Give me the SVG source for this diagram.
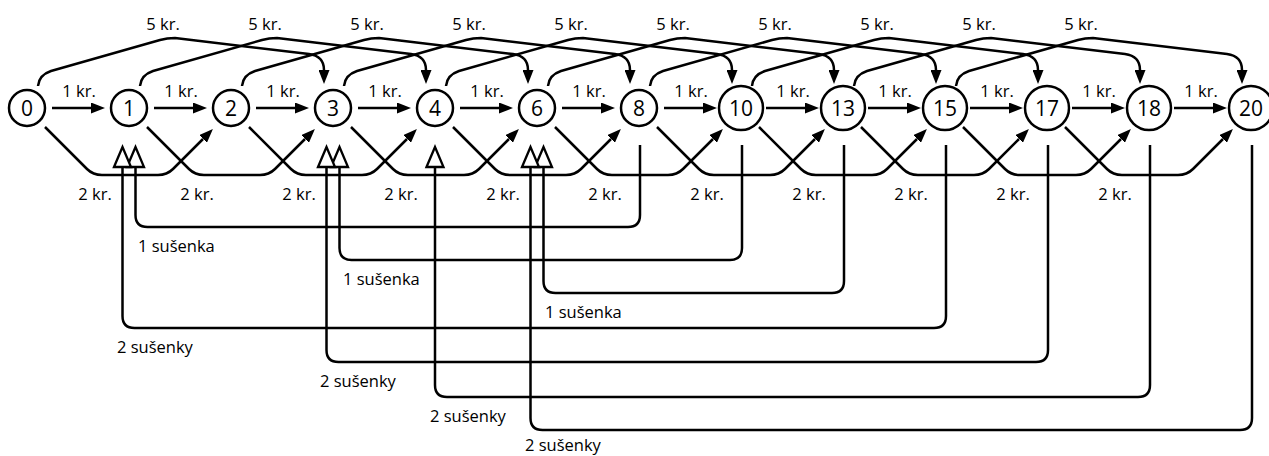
<svg xmlns="http://www.w3.org/2000/svg" width="1269" height="456" viewBox="0 0 1269 456">
<style>
.e{fill:none;stroke:#000;stroke-width:2.5;stroke-linejoin:round}
.a{marker-end:url(#ah)}
.c{marker-end:url(#hh)}
.n circle{fill:#fff;stroke:#000;stroke-width:2.5}
.n text{font-family:"Open Sans","Noto Sans",sans-serif;font-size:21px;text-anchor:middle;fill:#000}
.l{font-family:"Open Sans","Noto Sans",sans-serif;font-size:16.5px;fill:#000}
.m{text-anchor:middle}
</style>
<defs>
<marker id="ah" markerUnits="userSpaceOnUse" viewBox="0 0 14 11" refX="0" refY="5.5" markerWidth="14" markerHeight="11" orient="auto"><path d="M0,0 L14,5.5 L0,11 z" fill="#000"/></marker>
<marker id="hh" markerUnits="userSpaceOnUse" viewBox="-2 -11 24 22" refX="0" refY="0" markerWidth="24" markerHeight="22" orient="auto" overflow="visible"><path d="M0,-8.5 L20,0 L0,8.5 z" fill="#fff" stroke="#000" stroke-width="2.3" stroke-linejoin="miter"/></marker>
</defs>
<g id="connectors">
<g id="one-kr">
<path class="e a" d="M52,108 H91"/>
<path class="e a" d="M154,108 H193"/>
<path class="e a" d="M256,108 H295"/>
<path class="e a" d="M358,108 H397"/>
<path class="e a" d="M460,108 H499"/>
<path class="e a" d="M562,108 H601"/>
<path class="e a" d="M664,108 H703"/>
<path class="e a" d="M766,108 H805"/>
<path class="e a" d="M868,108 H907"/>
<path class="e a" d="M970,108 H1009"/>
<path class="e a" d="M1072,108 H1111"/>
<path class="e a" d="M1174,108 H1213"/>
</g>
<g id="five-kr">
<path class="e a" d="M38,86 Q39,75 51,71 L160,40 Q167,38 175,38 L309,54 Q324,56 324,70"/>
<path class="e a" d="M140,86 Q141,75 153,71 L262,40 Q269,38 277,38 L411,54 Q426,56 426,70"/>
<path class="e a" d="M242,86 Q243,75 255,71 L364,40 Q371,38 379,38 L513,54 Q528,56 528,70"/>
<path class="e a" d="M344,86 Q345,75 357,71 L466,40 Q473,38 481,38 L615,54 Q630,56 630,70"/>
<path class="e a" d="M446,86 Q447,75 459,71 L568,40 Q575,38 583,38 L717,54 Q732,56 732,70"/>
<path class="e a" d="M548,86 Q549,75 561,71 L670,40 Q677,38 685,38 L819,54 Q834,56 834,70"/>
<path class="e a" d="M650,86 Q651,75 663,71 L772,40 Q779,38 787,38 L921,54 Q936,56 936,70"/>
<path class="e a" d="M752,86 Q753,75 765,71 L874,40 Q881,38 889,38 L1023,54 Q1038,56 1038,70"/>
<path class="e a" d="M854,86 Q855,75 867,71 L976,40 Q983,38 991,38 L1125,54 Q1140,56 1140,70"/>
<path class="e a" d="M956,86 Q957,75 969,71 L1078,40 Q1085,38 1093,38 L1227,54 Q1242,56 1242,70"/>
</g>
<g id="two-kr">
<path class="e a" d="M45,127 L87,169 Q93,175 102,175 L158,175 Q167,175 173,169 L203,139"/>
<path class="e a" d="M147,127 L189,169 Q195,175 204,175 L260,175 Q269,175 275,169 L305,139"/>
<path class="e a" d="M249,127 L291,169 Q297,175 306,175 L362,175 Q371,175 377,169 L407,139"/>
<path class="e a" d="M351,127 L393,169 Q399,175 408,175 L464,175 Q473,175 479,169 L509,139"/>
<path class="e a" d="M453,127 L495,169 Q501,175 510,175 L566,175 Q575,175 581,169 L611,139"/>
<path class="e a" d="M555,127 L597,169 Q603,175 612,175 L668,175 Q677,175 683,169 L713,139"/>
<path class="e a" d="M657,127 L699,169 Q705,175 714,175 L770,175 Q779,175 785,169 L815,139"/>
<path class="e a" d="M759,127 L801,169 Q807,175 816,175 L872,175 Q881,175 887,169 L917,139"/>
<path class="e a" d="M861,127 L903,169 Q909,175 918,175 L974,175 Q983,175 989,169 L1019,139"/>
<path class="e a" d="M963,127 L1005,169 Q1011,175 1020,175 L1076,175 Q1085,175 1091,169 L1121,139"/>
<path class="e a" d="M1065,127 L1107,169 Q1113,175 1122,175 L1178,175 Q1187,175 1193,169 L1223,139"/>
</g>
<g id="cookies">
<path class="e c" d="M640,145 V215 Q640,227 628,227 H147.5 Q135.5,227 135.5,215 V167"/>
<path class="e c" d="M742,145 V248 Q742,260 730,260 H351.5 Q339.5,260 339.5,248 V167"/>
<path class="e c" d="M844,145 V281 Q844,293 832,293 H555.5 Q543.5,293 543.5,281 V167"/>
<path class="e c" d="M946,145 V316 Q946,328 934,328 H134.5 Q122.5,328 122.5,316 V167"/>
<path class="e c" d="M1048,145 V350 Q1048,362 1036,362 H338.5 Q326.5,362 326.5,350 V167"/>
<path class="e c" d="M1150,145 V385 Q1150,397 1138,397 H447 Q435,397 435,385 V167"/>
<path class="e c" d="M1252,145 V418 Q1252,430 1240,430 H542.5 Q530.5,430 530.5,418 V167"/>
</g>
</g>
<g id="labels">
<text class="l m" x="79" y="97">1 kr.</text>
<text class="l m" x="181" y="97">1 kr.</text>
<text class="l m" x="283" y="97">1 kr.</text>
<text class="l m" x="385" y="97">1 kr.</text>
<text class="l m" x="487" y="97">1 kr.</text>
<text class="l m" x="589" y="97">1 kr.</text>
<text class="l m" x="691" y="97">1 kr.</text>
<text class="l m" x="793" y="97">1 kr.</text>
<text class="l m" x="895" y="97">1 kr.</text>
<text class="l m" x="997" y="97">1 kr.</text>
<text class="l m" x="1099" y="97">1 kr.</text>
<text class="l m" x="1201" y="97">1 kr.</text>
<text class="l m" x="163" y="30">5 kr.</text>
<text class="l m" x="265" y="30">5 kr.</text>
<text class="l m" x="367" y="30">5 kr.</text>
<text class="l m" x="469" y="30">5 kr.</text>
<text class="l m" x="571" y="30">5 kr.</text>
<text class="l m" x="673" y="30">5 kr.</text>
<text class="l m" x="775" y="30">5 kr.</text>
<text class="l m" x="877" y="30">5 kr.</text>
<text class="l m" x="979" y="30">5 kr.</text>
<text class="l m" x="1081" y="30">5 kr.</text>
<text class="l m" x="95" y="200">2 kr.</text>
<text class="l m" x="197" y="200">2 kr.</text>
<text class="l m" x="299" y="200">2 kr.</text>
<text class="l m" x="401" y="200">2 kr.</text>
<text class="l m" x="503" y="200">2 kr.</text>
<text class="l m" x="605" y="200">2 kr.</text>
<text class="l m" x="707" y="200">2 kr.</text>
<text class="l m" x="809" y="200">2 kr.</text>
<text class="l m" x="911" y="200">2 kr.</text>
<text class="l m" x="1013" y="200">2 kr.</text>
<text class="l m" x="1115" y="200">2 kr.</text>
<text class="l" x="138" y="252">1 sušenka</text>
<text class="l" x="343" y="285">1 sušenka</text>
<text class="l" x="545" y="318">1 sušenka</text>
<text class="l" x="117" y="353">2 sušenky</text>
<text class="l" x="320" y="387">2 sušenky</text>
<text class="l" x="430" y="422">2 sušenky</text>
<text class="l" x="525" y="451">2 sušenky</text>
</g>
<g id="node-0" class="n"><circle cx="27" cy="108" r="18"/><text x="27" y="115.5">0</text></g>
<g id="node-1" class="n"><circle cx="129" cy="108" r="18"/><text x="129" y="115.5">1</text></g>
<g id="node-2" class="n"><circle cx="231" cy="108" r="18"/><text x="231" y="115.5">2</text></g>
<g id="node-3" class="n"><circle cx="333" cy="108" r="18"/><text x="333" y="115.5">3</text></g>
<g id="node-4" class="n"><circle cx="435" cy="108" r="18"/><text x="435" y="115.5">4</text></g>
<g id="node-6" class="n"><circle cx="537" cy="108" r="18"/><text x="537" y="115.5">6</text></g>
<g id="node-8" class="n"><circle cx="639" cy="108" r="18"/><text x="639" y="115.5">8</text></g>
<g id="node-10" class="n"><circle cx="741" cy="108" r="22"/><text x="741" y="115.5">10</text></g>
<g id="node-13" class="n"><circle cx="843" cy="108" r="22"/><text x="843" y="115.5">13</text></g>
<g id="node-15" class="n"><circle cx="945" cy="108" r="22"/><text x="945" y="115.5">15</text></g>
<g id="node-17" class="n"><circle cx="1047" cy="108" r="22"/><text x="1047" y="115.5">17</text></g>
<g id="node-18" class="n"><circle cx="1149" cy="108" r="22"/><text x="1149" y="115.5">18</text></g>
<g id="node-20" class="n"><circle cx="1251" cy="108" r="22"/><text x="1251" y="115.5">20</text></g>
</svg>
